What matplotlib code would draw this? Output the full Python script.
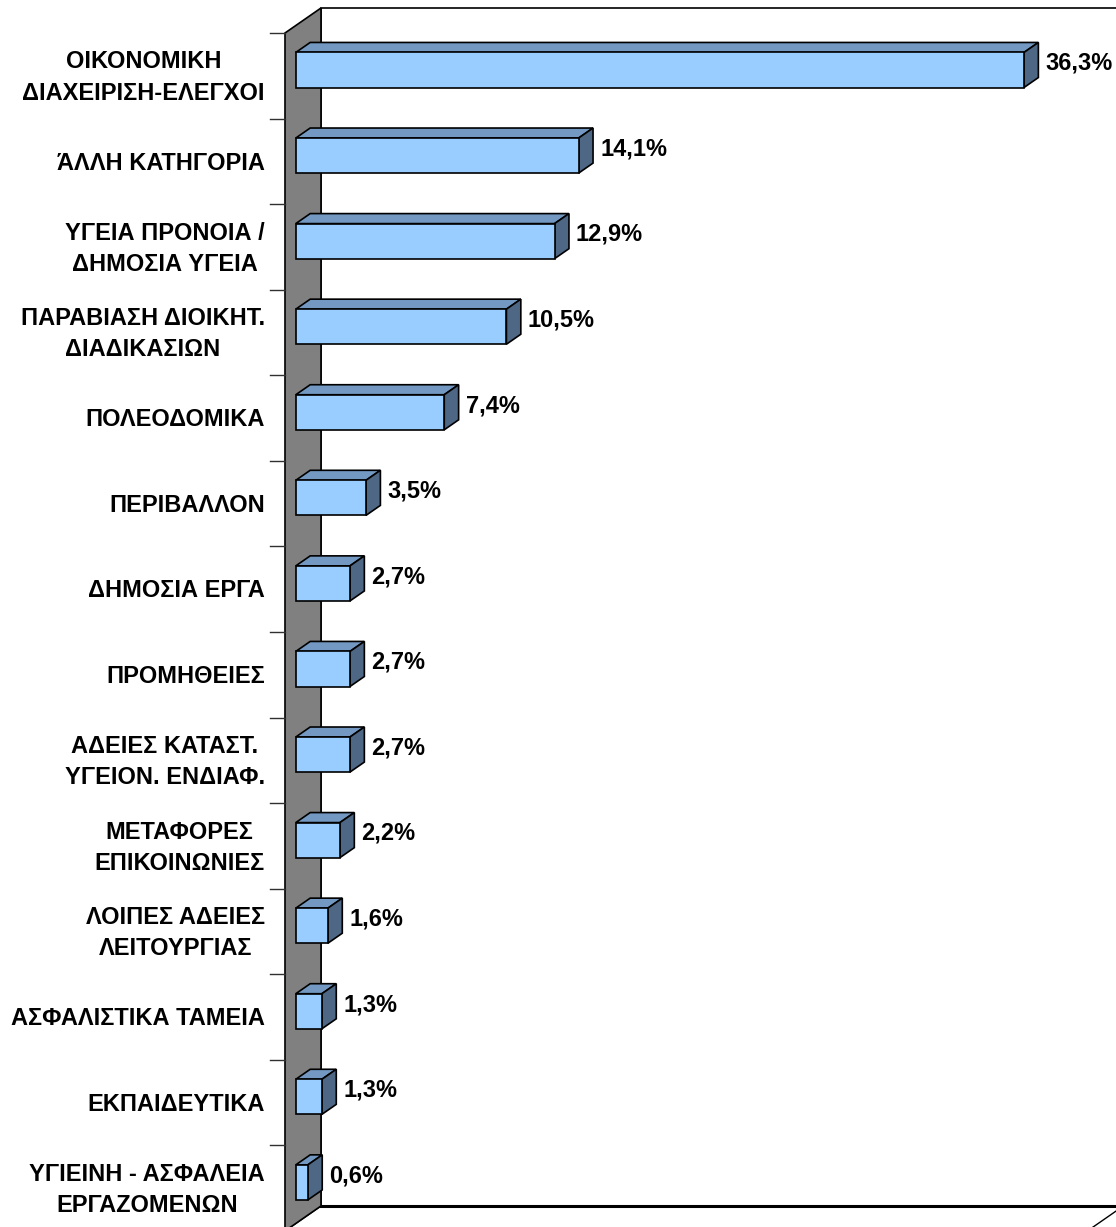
import matplotlib
matplotlib.use("Agg")
import matplotlib.pyplot as plt
from matplotlib.patches import Polygon

plt.rcParams['font.family'] = ['Liberation Sans', 'DejaVu Sans']

# categories, top to bottom
categories = [
    "ΟΙΚΟΝΟΜΙΚΗ\nΔΙΑΧΕΙΡΙΣΗ-ΕΛΕΓΧΟΙ",
    "ΆΛΛΗ ΚΑΤΗΓΟΡΙΑ",
    "ΥΓΕΙΑ ΠΡΟΝΟΙΑ /\nΔΗΜΟΣΙΑ ΥΓΕΙΑ",
    "ΠΑΡΑΒΙΑΣΗ ΔΙΟΙΚΗΤ.\nΔΙΑΔΙΚΑΣΙΩΝ",
    "ΠΟΛΕΟΔΟΜΙΚΑ",
    "ΠΕΡΙΒΑΛΛΟΝ",
    "ΔΗΜΟΣΙΑ ΕΡΓΑ",
    "ΠΡΟΜΗΘΕΙΕΣ",
    "ΑΔΕΙΕΣ ΚΑΤΑΣΤ.\nΥΓΕΙΟΝ. ΕΝΔΙΑΦ.",
    "ΜΕΤΑΦΟΡΕΣ\nΕΠΙΚΟΙΝΩΝΙΕΣ",
    "ΛΟΙΠΕΣ ΑΔΕΙΕΣ\nΛΕΙΤΟΥΡΓΙΑΣ",
    "ΑΣΦΑΛΙΣΤΙΚΑ ΤΑΜΕΙΑ",
    "ΕΚΠΑΙΔΕΥΤΙΚΑ",
    "ΥΓΙΕΙΝΗ - ΑΣΦΑΛΕΙΑ\nΕΡΓΑΖΟΜΕΝΩΝ",
]
values = [36.3, 14.1, 12.9, 10.5, 7.4, 3.5, 2.7, 2.7, 2.7, 2.2, 1.6, 1.3, 1.3, 0.6]
x_max = 40

front_col = "#99CCFF"
top_col = "#7399C2"
side_col = "#4D6785"
wall_col = "#808080"

fig = plt.figure(figsize=(11.16, 12.27), dpi=100)
ax = fig.add_axes([0, 0, 1, 1])
ax.set_xlim(-14.207, 41.426)
ax.set_ylim(13.4536, -0.8857)
ax.axis("off")

n = len(categories)
# 3d depth vector in data units
ddx, ddy = 1.7946, -0.2922
f1, f2 = 0.3, 0.7  # bar depth range
h = 0.41
y_top, y_bot = -0.5, n - 0.5

# back wall
ax.add_patch(Polygon([(ddx, y_top + ddy), (x_max + ddx, y_top + ddy),
                      (x_max + ddx, y_bot + ddy), (ddx, y_bot + ddy)],
                     closed=True, fc="white", ec="black", lw=1.2, zorder=1))
# floor
ax.add_patch(Polygon([(0, y_bot), (x_max, y_bot), (x_max + ddx, y_bot + ddy), (ddx, y_bot + ddy)],
                     closed=True, fc="white", ec="black", lw=1.0, zorder=1))
ax.plot([ddx, x_max + ddx], [y_bot + ddy, y_bot + ddy], color="black", lw=2.2, zorder=2)
# side wall
ax.add_patch(Polygon([(0, y_top), (ddx, y_top + ddy), (ddx, y_bot + ddy), (0, y_bot)],
                     closed=True, fc=wall_col, ec="black", lw=1.2, zorder=2))

# category ticks
for k in range(n):
    ax.plot([-0.75, 0], [k - 0.5, k - 0.5], color="#303030", lw=1.0, zorder=2)

for i, (cat, v) in enumerate(zip(categories, values)):
    x0, y0 = f1 * ddx, i + f1 * ddy + 0.02
    ox, oy = (f2 - f1) * ddx, (f2 - f1) * ddy
    ya, yb = y0 - h / 2, y0 + h / 2
    # top face
    ax.add_patch(Polygon([(x0, ya), (x0 + v, ya), (x0 + v + ox, ya + oy), (x0 + ox, ya + oy)],
                         closed=True, fc=top_col, ec="black", lw=1.2, zorder=3))
    # side face
    ax.add_patch(Polygon([(x0 + v, ya), (x0 + v + ox, ya + oy), (x0 + v + ox, yb + oy), (x0 + v, yb)],
                         closed=True, fc=side_col, ec="black", lw=1.2, zorder=3))
    # front face
    ax.add_patch(Polygon([(x0, ya), (x0 + v, ya), (x0 + v, yb), (x0, yb)],
                         closed=True, fc=front_col, ec="black", lw=1.2, zorder=4))

    lbl = f"{v:.1f}".replace(".", ",") + "%"
    ax.text(x0 + v + ox + 0.35, y0 + 0.5 * oy - 0.02, lbl, ha="left", va="center",
            fontsize=17, fontweight="bold", zorder=5)
    ax.text(-1.0, i + 0.02, cat, ha="right", va="center", multialignment="center",
            fontsize=17, fontweight="bold", linespacing=1.45, zorder=5)

fig.savefig("out.png", dpi=100)
